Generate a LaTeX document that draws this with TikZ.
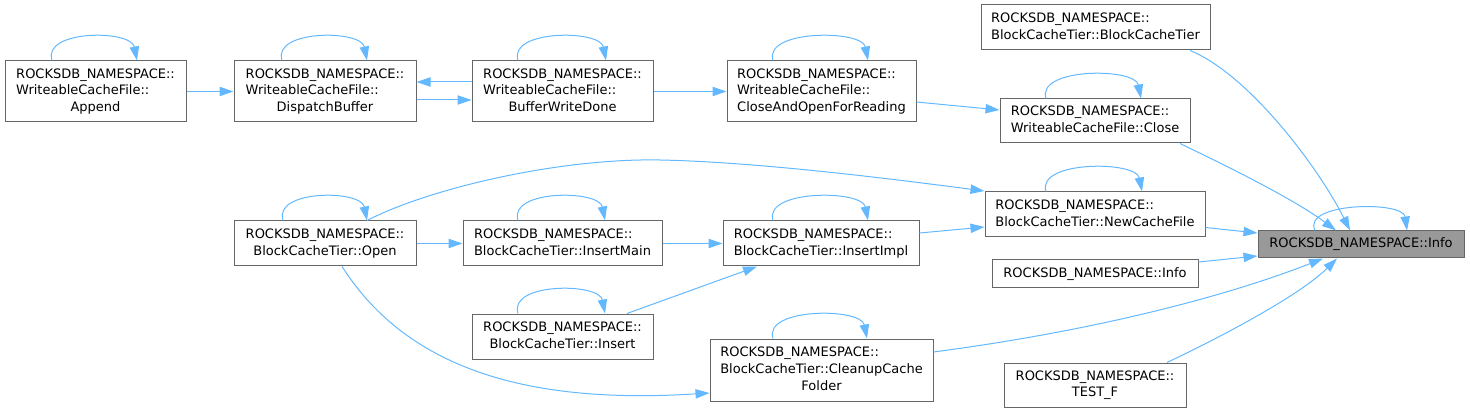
\documentclass[tikz,border=0pt]{standalone}
\usepackage{fontspec}
\setmainfont{DejaVu Sans}
\usepackage{tikz}
\usetikzlibrary{arrows.meta,calc}
\definecolor{edgeBlue}{HTML}{63B8FF}
\definecolor{boxGray}{HTML}{666666}
\definecolor{targetGray}{HTML}{999999}
% upper lines flush left, last line centred
\newcommand{\lbl}[2]{\begin{tabular}{@{}l@{}}#1\\\multicolumn{1}{@{}c@{}}{#2}\end{tabular}}
\tikzset{
  fn/.style={draw=boxGray, fill=white, line width=0.75pt, inner sep=0pt,
    font=\fontsize{9.75}{12.5}\selectfont, minimum height=33.75pt},
  edge/.style={edgeBlue, line width=0.75pt, -{Triangle[length=10.5pt,width=7pt]}},
}

\begin{document}
\begin{tikzpicture}[x=0.75pt, y=-0.75pt]
  \useasboundingbox (0,0) rectangle (1470,413);

  % WriteableCacheFile chain
  \node[fn, minimum width=135.75pt, minimum height=45.75pt] (app) at (95.5,91.5)
    {\lbl{ROCKSDB\_NAMESPACE::\\WriteableCacheFile::}{Append}};
  \node[fn, minimum width=136.5pt, minimum height=45.75pt] (disp) at (325,91.5)
    {\lbl{ROCKSDB\_NAMESPACE::\\WriteableCacheFile::}{DispatchBuffer}};
  \node[fn, minimum width=135.75pt, minimum height=45.75pt] (bwd) at (562.5,91.5)
    {\lbl{ROCKSDB\_NAMESPACE::\\WriteableCacheFile::}{BufferWriteDone}};
  \node[fn, minimum width=141.75pt, minimum height=45.75pt] (cao) at (821.5,91.5)
    {\lbl{ROCKSDB\_NAMESPACE::\\WriteableCacheFile::}{CloseAndOpenForReading}};

  % right column
  \node[fn, minimum width=171.75pt] (bctor) at (1095.5,27.5)
    {\lbl{ROCKSDB\_NAMESPACE::}{BlockCacheTier::BlockCacheTier}};
  \node[fn, minimum width=142.5pt, minimum height=33pt] (close) at (1095,121)
    {\lbl{ROCKSDB\_NAMESPACE::}{WriteableCacheFile::Close}};
  \node[fn, minimum width=165pt] (ncf) at (1095,214.5)
    {\lbl{ROCKSDB\_NAMESPACE::}{BlockCacheTier::NewCacheFile}};
  \node[fn, minimum width=154.5pt, minimum height=21pt] (info2) at (1095,274)
    {ROCKSDB\_NAMESPACE::Info};
  \node[fn, minimum width=136.5pt, minimum height=33pt] (testf) at (1095,385)
    {\lbl{ROCKSDB\_NAMESPACE::}{TEST\_F}};
  \node[fn, fill=targetGray, minimum width=154.5pt, minimum height=20.25pt] (info) at (1361,244.5)
    {ROCKSDB\_NAMESPACE::Info};

  % BlockCacheTier chain
  \node[fn, minimum width=136.5pt] (open) at (325,243.5)
    {\lbl{ROCKSDB\_NAMESPACE::}{BlockCacheTier::Open}};
  \node[fn, minimum width=149.25pt] (imain) at (562.5,243.5)
    {\lbl{ROCKSDB\_NAMESPACE::}{BlockCacheTier::InsertMain}};
  \node[fn, minimum width=147pt] (iimpl) at (821,243.5)
    {\lbl{ROCKSDB\_NAMESPACE::}{BlockCacheTier::InsertImpl}};
  \node[fn, minimum width=135.75pt] (ins) at (562.5,336.5)
    {\lbl{ROCKSDB\_NAMESPACE::}{BlockCacheTier::Insert}};
  \node[fn, minimum width=167.25pt, minimum height=46.5pt] (clean) at (821.5,370)
    {\lbl{ROCKSDB\_NAMESPACE::\\BlockCacheTier::CleanupCache}{Folder}};

  % self calls
  \draw[edge] ($(app.north)+(-43.5,0)$) .. controls +(-10,-31) and +(-6,-31) .. ($(app.north)+(41.5,0)$);
  \draw[edge] ($(disp.north)+(-43,0)$) .. controls +(-10,-31) and +(-6,-31) .. ($(disp.north)+(42,0)$);
  \draw[edge] ($(bwd.north)+(-44.5,0)$) .. controls +(-10,-31) and +(-6,-31) .. ($(bwd.north)+(43.5,0)$);
  \draw[edge] ($(cao.north)+(-48.5,0)$) .. controls +(-10,-31) and +(-6,-31) .. ($(cao.north)+(46.5,0)$);
  \draw[edge] ($(close.north)+(-49,0)$) .. controls +(-10,-31) and +(-6,-31) .. ($(close.north)+(46,0)$);
  \draw[edge] ($(ncf.north)+(-49,0)$) .. controls +(-10,-31) and +(-6,-31) .. ($(ncf.north)+(47,0)$);
  \draw[edge] ($(open.north)+(-42,0)$) .. controls +(-10,-31) and +(-6,-31) .. ($(open.north)+(42,0)$);
  \draw[edge] ($(imain.north)+(-44.5,0)$) .. controls +(-10,-31) and +(-6,-31) .. ($(imain.north)+(42.5,0)$);
  \draw[edge] ($(iimpl.north)+(-48,0)$) .. controls +(-10,-31) and +(-6,-31) .. ($(iimpl.north)+(47,0)$);
  \draw[edge] ($(ins.north)+(-44.5,0)$) .. controls +(-10,-31) and +(-6,-31) .. ($(ins.north)+(42.5,0)$);
  \draw[edge] ($(clean.north)+(-48.5,0)$) .. controls +(-10,-31) and +(-6,-31) .. ($(clean.north)+(45.5,0)$);
  \draw[edge] ($(info.north)+(-46,0)$) .. controls +(-14,-28) and +(-4,-30) .. ($(info.north)+(46,0)$);

  % calls
  \draw[edge] (app) -- (disp);
  \draw[edge] ($(bwd.west)+(0,-9.5)$) -- ($(disp.east)+(0,-9.5)$);
  \draw[edge] ($(disp.east)+(0,8.5)$) -- ($(bwd.west)+(0,8.5)$);
  \draw[edge] (bwd) -- (cao);
  \draw[edge] ($(cao.east)+(0,10.5)$) -- ($(close.west)+(0,-11)$);
  \draw[edge] ($(close.south)+(85,0)$) .. controls (1235,170) and (1295,200) .. ($(info.north)+(-25,0)$);
  \draw[edge] ($(bctor.south)+(94.5,0)$) .. controls (1250,75) and (1320,170) .. ($(info.north)+(-11,0)$);
  \draw[edge] ($(ncf.east)+(0,13)$) -- ($(info.west)+(0,-11.5)$);
  \draw[edge] ($(info2.east)+(0,-12)$) -- ($(info.west)+(0,11.5)$);
  \draw[edge] ($(clean.east)+(0,-18)$) .. controls (1100,330) and (1230,295) .. ($(info.south)+(-38,0)$);
  \draw[edge] ($(testf.north)+(72,0)$) .. controls (1225,335) and (1300,295) .. ($(info.south)+(-24,0)$);
  \draw[edge] ($(open.north)+(42,0)$) .. controls (430,188) and (560,158) .. (660,160)
    .. controls (760,162) and (900,180) .. ($(ncf.west)+(0,-23.5)$);
  \draw[edge] (open) -- (imain);
  \draw[edge] (imain) -- (iimpl);
  \draw[edge] ($(iimpl.east)+(0,-10.5)$) -- ($(ncf.west)+(0,12.5)$);
  \draw[edge] ($(ins.north)+(64.5,0)$) -- ($(iimpl.south)+(-64,0)$);
  \draw[edge] ($(open.south)+(17,0)$) .. controls (405,365) and (520,405) .. ($(clean.west)+(0,23)$);
\end{tikzpicture}
\end{document}
